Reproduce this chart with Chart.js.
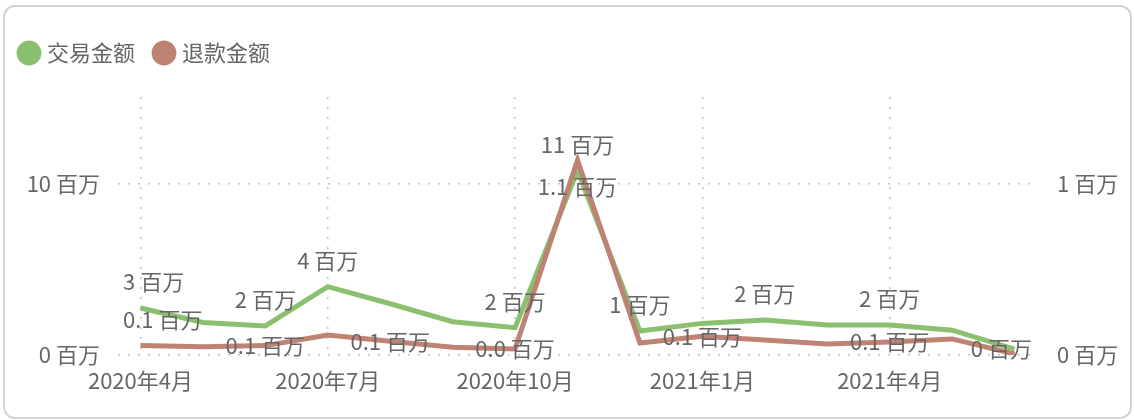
<!DOCTYPE html>
<html>
<head>
<meta charset="utf-8">
<script src="https://cdn.jsdelivr.net/npm/chart.js@4"></script>
<style>
  html, body { margin: 0; padding: 0; background: #fff; }
  #wrap { position: relative; width: 1134px; height: 420px; overflow: hidden; }
  #card {
    position: absolute; left: 3px; top: 5px; width: 1125px; height: 410px;
    border: 2px solid #d4d4d4; border-radius: 12px;
  }
  #chart { position: absolute; left: 0; top: 0; }
</style>
</head>
<body>
<div id="wrap">
  <div id="card"></div>
  <canvas id="chart" width="1134" height="420"></canvas>
</div>
<script>
/* 交易金额 / 退款金额 – 月度折线图 */

const MONTHS = [
  "2020年4月", "2020年5月", "2020年6月", "2020年7月", "2020年8月",
  "2020年9月", "2020年10月", "2020年11月", "2020年12月", "2021年1月",
  "2021年2月", "2021年3月", "2021年4月", "2021年5月", "2021年6月",
];
const TRADE = [
  2750000, 1900000, 1700000, 4000000, 3000000,
  1950000, 1600000, 10800000, 1400000, 1850000,
  2050000, 1750000, 1750000, 1450000, 350000,
];
const REFUND = [
  55000, 48000, 55000, 117000, 80000,
  45000, 35000, 1140000, 70000, 110000,
  88000, 64000, 76000, 94000, 6000,
];
const SERIES_NAMES = ["交易金额", "退款金额"];
const X_TICKS = [0, 3, 6, 9, 12];
const LEFT_TICKS = [0, 10000000];
const RIGHT_TICKS = [0, 1000000];

const FONT = "'Noto Sans CJK SC', 'Noto Sans', sans-serif";
const TEXT = "#666666";
const GREEN = "#8ac06f";
const RED = "#bf8374";

// which points get a data label, and where
const LABELS = [
  { 0: "above", 2: "above", 3: "above", 6: "above", 7: "above", 8: "above", 10: "above", 12: "above", 14: "on" },
  { 0: "above", 2: "on", 4: "on", 6: "on", 7: "below", 9: "on", 12: "on" },
];

function fmtTrade(v) { return Math.round(v / 1e6) + " 百万"; }
function fmtRefund(v) { return (v / 1e6).toFixed(1) + " 百万"; }

const dataLabels = {
  id: "dataLabels",
  afterDatasetsDraw(chart) {
    const ctx = chart.ctx;
    const area = chart.chartArea;
    ctx.save();
    ctx.font = "22px " + FONT;
    ctx.fillStyle = TEXT;
    ctx.textAlign = "center";
    ctx.textBaseline = "middle";
    chart.data.datasets.forEach((ds, di) => {
      const meta = chart.getDatasetMeta(di);
      const fmt = di === 0 ? fmtTrade : fmtRefund;
      Object.keys(LABELS[di]).forEach(k => {
        const i = +k;
        const pt = meta.data[i];
        const txt = fmt(ds.data[i].y);
        const w = ctx.measureText(txt).width;
        let x = pt.x;
        x = Math.max(x, area.left + 5 + w / 2);
        x = Math.min(x, area.right - 5 - w / 2);
        const place = LABELS[di][k];
        const dy = place === "above" ? -26 : place === "below" ? 26 : 0;
        ctx.fillText(txt, x, pt.y + dy);
      });
    });
    ctx.restore();
  },
};

const legendHeight = {
  id: "legendHeight",
  afterInit(chart) {
    const fit = chart.legend.fit;
    chart.legend.fit = function () {
      fit.call(this);
      this.height = 77;
    };
  },
};

Chart.defaults.font.family = FONT;
Chart.defaults.color = TEXT;

new Chart(document.getElementById("chart").getContext("2d"), {
  type: "line",
  data: {
    datasets: [
      {
        label: SERIES_NAMES[0],
        data: TRADE.map((v, i) => ({ x: i, y: v })),
        borderColor: GREEN,
        backgroundColor: GREEN,
        borderWidth: 5,
        pointRadius: 0,
        yAxisID: "y",
        order: 1,
      },
      {
        label: SERIES_NAMES[1],
        data: REFUND.map((v, i) => ({ x: i, y: v })),
        borderColor: RED,
        backgroundColor: RED,
        borderWidth: 5,
        pointRadius: 0,
        yAxisID: "y1",
        order: 0,
      },
    ],
  },
  options: {
    responsive: false,
    animation: false,
    layout: { padding: { top: 20, left: 0, right: 0, bottom: 0 } },
    plugins: {
      tooltip: { enabled: false },
      legend: {
        position: "top",
        align: "start",
        reverse: true,
        labels: {
          usePointStyle: true,
          pointStyle: "circle",
          boxWidth: 14,
          boxHeight: 14,
          padding: 22,
          color: TEXT,
          font: { size: 22, family: FONT },
        },
      },
    },
    scales: {
      x: {
        type: "linear",
        min: -0.36,
        max: 14.36,
        afterBuildTicks: s => { s.ticks = X_TICKS.map(v => ({ value: v })); },
        afterFit: s => { s.height = 65; },
        ticks: {
          callback: v => MONTHS[v],
          autoSkip: false,
          maxRotation: 0,
          padding: 12,
          font: { size: 22 },
          color: TEXT,
        },
        grid: { color: "#c4c4c4", lineWidth: 1.5, drawTicks: false },
        border: { display: false, dash: [2, 8] },
      },
      y: {
        position: "left",
        min: 0,
        max: 15100000,
        afterBuildTicks: s => { s.ticks = LEFT_TICKS.map(v => ({ value: v })); },
        afterFit: s => { s.width = 118; },
        ticks: {
          callback: v => (v / 1e6) + " 百万",
          padding: 18,
          font: { size: 22 },
          color: TEXT,
        },
        grid: { color: "#c4c4c4", lineWidth: 1.5, drawTicks: false },
        border: { display: false, dash: [2, 8] },
      },
      y1: {
        position: "right",
        min: 0,
        max: 1510000,
        afterBuildTicks: s => { s.ticks = RIGHT_TICKS.map(v => ({ value: v })); },
        afterFit: s => { s.width = 97; },
        ticks: {
          callback: v => (v / 1e6) + " 百万",
          padding: 20,
          font: { size: 22 },
          color: TEXT,
        },
        grid: { display: false, drawTicks: false },
        border: { display: false },
      },
    },
  },
  plugins: [dataLabels, legendHeight],
});
</script>
</body>
</html>
